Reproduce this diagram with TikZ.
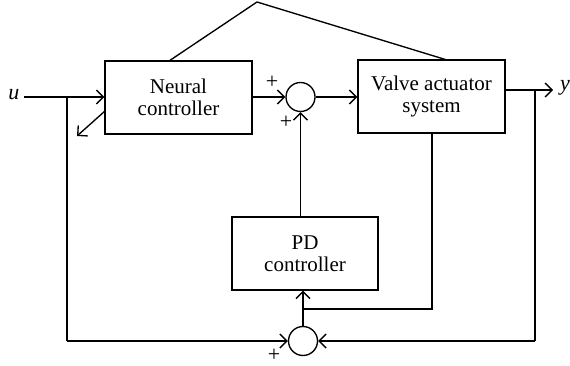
\documentclass[tikz,border=0pt]{standalone}
\usepackage{fontspec}
\setmainfont{Liberation Serif}
\usetikzlibrary{arrows.meta}
\begin{document}
\begin{tikzpicture}[x=1pt,y=-1pt,line width=1.35pt,
  >={Straight Barb[length=7pt,width=14pt]},
  blockbox/.style={draw,minimum width=147pt,minimum height=73pt,align=center,inner sep=0pt,
    font=\fontsize{21}{22}\selectfont},
  sumnode/.style={draw,circle,minimum size=29pt,inner sep=0pt},
  signlbl/.style={font=\fontsize{22}{22}\selectfont,inner sep=0pt},
  iolbl/.style={font=\fontsize{22}{22}\selectfont\itshape,inner sep=0pt}]
\useasboundingbox (0,0) rectangle (570,366);
\node[blockbox] (nc) at (178.5,97.5) {Neural\\controller};
\node[blockbox] (va) at (431.5,96.5) {Valve actuator\\system};
\node[blockbox,minimum width=146pt] (pd) at (305,253.5) {PD\\controller};
\node[sumnode] (s1) at (300.5,97) {};
\node[sumnode] (s2) at (303,341) {};
\node[iolbl] (u) at (14,95) {u};
\node[iolbl] (y) at (565,88) {y};
\node[signlbl] (p1) at (272,82) {+};
\node[signlbl] (p2) at (286,122) {+};
\node[signlbl] (p3) at (274,355) {+};
\coordinate (ustart) at (24,97);
\coordinate (ubr) at (67,97);
\coordinate (ubot) at (67,341);
\coordinate (yend) at (553,90);
\coordinate (ybr) at (535,90);
\coordinate (ybot) at (535,341);
\coordinate (apex) at (257,2);
\coordinate (vbot) at (432,309);
\coordinate (pdj) at (303,309);
\coordinate (nwout) at (77,136);
\coordinate (ncl) at (105,111);
\coordinate (nctop) at (169,61);
\coordinate (vatop) at (447,60);
% input
\draw[->] (ustart) -- (nc.west |- ustart);
\draw (ubr) -- (ubot);
\draw[->] (ubot) -- (s2.west);
% neural -> sum1 -> valve
\draw[->] (nc.east |- s1) -- (s1.west);
\draw[->] (s1.east) -- (va.west |- s1);
% output
\draw[->] (va.east |- yend) -- (yend);
\draw (ybr) -- (ybot);
\draw[->] (ybot) -- (s2.east);
% valve bottom to PD
\draw (va.south -| vbot) -- (vbot) -- (pdj);
\draw[->] (s2.north) -- (pd.south -| s2.north);
\draw[->] (pd.north -| s1.south) -- (s1.south);
% triangle over top
\draw (nctop) -- (apex) -- (vatop);
% learning arrow
\draw[->] (ncl) -- (nwout);
\end{tikzpicture}
\end{document}
